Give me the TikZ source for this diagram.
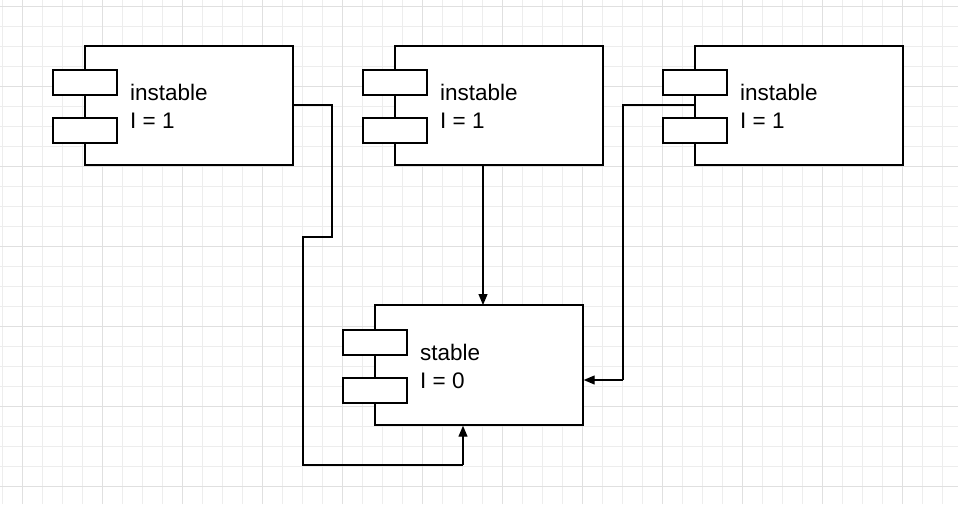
\documentclass[tikz,border=0pt]{standalone}
\usepackage{fontspec}
\setmainfont{Liberation Sans}
\usetikzlibrary{arrows.meta}
\begin{document}
\begin{tikzpicture}[x=1pt,y=-1pt,
  box/.style={draw,line width=1.4pt,fill=white},
  port/.style={draw,line width=1.4pt,fill=white},
  wire/.style={line width=1.2pt},
  lbl/.style={anchor=west,align=left,font=\fontsize{22.5}{28}\selectfont,inner sep=0pt},
  arr/.style={wire,-{Triangle[length=11pt,width=9pt]}}]
\fill[white] (0,0) rectangle (958,504);
\useasboundingbox (0,0) rectangle (958,504);
\foreach \x in {2,22,...,958} \draw[black!7,line width=0.6pt] (\x,0) -- (\x,504);
\foreach \y in {6,26,...,504} \draw[black!7,line width=0.6pt] (0,\y) -- (958,\y);
\foreach \x in {22,102,...,958} \draw[black!12,line width=0.8pt] (\x,0) -- (\x,504);
\foreach \y in {6,86,...,504} \draw[black!12,line width=0.8pt] (0,\y) -- (958,\y);
\coordinate (a1) at (332,105); \coordinate (a2) at (332,237); \coordinate (a3) at (303,237);
\coordinate (a4) at (303,465); \coordinate (a5) at (463,465);
\coordinate (c1) at (623,105); \coordinate (c2) at (623,380);
\node[box,minimum width=208pt,minimum height=119pt,inner sep=0pt] (b1) at (189,105.5) {};
\node[box,minimum width=208pt,minimum height=119pt,inner sep=0pt] (b2) at (499,105.5) {};
\node[box,minimum width=208pt,minimum height=119pt,inner sep=0pt] (b3) at (799,105.5) {};
\node[box,minimum width=208pt,minimum height=120pt,inner sep=0pt] (s) at (479,365) {};
\draw[wire] (b3.west |- c1) -- (c1) -- (c2);
\draw[arr] (c2) -- (s.east |- c2);
\draw[wire] (b1.east |- a1) -- (a1) -- (a2) -- (a3) -- (a4) -- (a5);
\draw[arr] (a5) -- (a5 |- s.south);
\draw[arr] (b2.south -| 483,0) -- (483,305);
\foreach \x in {85,395,695}{
  \node[port,minimum width=64pt,minimum height=25pt,inner sep=0pt] at (\x,82.5) {};
  \node[port,minimum width=64pt,minimum height=25pt,inner sep=0pt] at (\x,130.5) {};
}
\node[port,minimum width=64pt,minimum height=25pt,inner sep=0pt] (sp1) at (375,342.5) {};
\node[port,minimum width=64pt,minimum height=25pt,inner sep=0pt] (sp2) at (375,390.5) {};
\node[lbl] (t1) at (130,106) {instable\\I = 1};
\node[lbl] (t2) at (440,106) {instable\\I = 1};
\node[lbl] (t3) at (740,106) {instable\\I = 1};
\node[lbl] (t4) at (420,366) {stable\\I = 0};
\end{tikzpicture}
\end{document}
